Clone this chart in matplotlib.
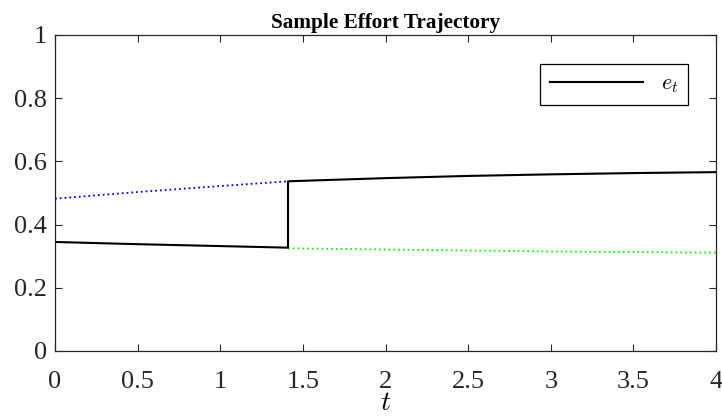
import matplotlib.pyplot as plt

plt.rcParams['font.family'] = ['Liberation Serif', 'DejaVu Serif']
plt.rcParams['mathtext.fontset'] = 'cm'

# black effort trajectory (two pieces, jump at t_switch)
t_before = [0.0, 0.5, 1.0, 1.41]
e_before = [0.345, 0.338, 0.332, 0.327]
t_after = [1.41, 2.0, 2.5, 3.0, 3.5, 4.0]
e_after = [0.537, 0.547, 0.554, 0.559, 0.563, 0.566]

# dotted reference branches
t_blue = [0.0, 0.5, 1.0, 1.41]
e_blue = [0.482, 0.503, 0.522, 0.537]
t_green = [1.41, 2.0, 2.5, 3.0, 3.5, 4.0]
e_green = [0.325, 0.321, 0.318, 0.315, 0.313, 0.311]

xticks = [0, 0.5, 1, 1.5, 2, 2.5, 3, 3.5, 4]
xticklabels = ['0', '0.5', '1', '1.5', '2', '2.5', '3', '3.5', '4']
yticks = [0, 0.2, 0.4, 0.6, 0.8, 1]
yticklabels = ['0', '0.2', '0.4', '0.6', '0.8', '1']

fig = plt.figure(figsize=(7.22, 4.17), dpi=100)
ax = fig.add_axes([0.0762, 0.1583, 0.9155, 0.7578])

ax.plot(t_blue, e_blue, ':', color=(0, 0, 1), lw=1.3)
ax.plot(t_green, e_green, ':', color=(0, 1, 0), lw=1.3)
ax.plot(t_before + t_after, e_before + e_after, '-', color='k', lw=1.5, label='$e_t$')

ax.set_xlim(0, 4)
ax.set_ylim(0, 1)
ax.set_xticks(xticks)
ax.set_xticklabels(xticklabels)
ax.set_yticks(yticks)
ax.set_yticklabels(yticklabels)
ax.tick_params(direction='in', top=True, right=True, length=5, width=0.8,
               labelsize=19, colors='#262626')
ax.tick_params(axis='x', pad=14.5)
ax.tick_params(axis='y', pad=6)
for s in ax.spines.values():
    s.set_linewidth(0.9)
    s.set_color('#262626')

ax.set_xlabel('$t$', fontsize=20, labelpad=-1.5)
ax.set_title('Sample Effort Trajectory', fontsize=15.3, fontweight='bold', pad=5)

leg = ax.legend(loc='upper right', bbox_to_anchor=(0.958, 0.908), fontsize=16,
                handlelength=4.2, fancybox=False, framealpha=1,
                edgecolor='k', borderpad=0.45, borderaxespad=0)
leg.get_frame().set_linewidth(0.9)

fig.savefig('out.png', dpi=100)
